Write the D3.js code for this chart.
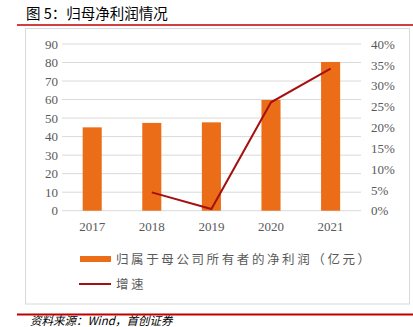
<!DOCTYPE html>
<html><head><meta charset="utf-8">
<script src="https://cdn.jsdelivr.net/npm/d3@7"></script>
<style>body{margin:0;background:#fff;} svg{display:block;}</style>
</head><body>
<script>
const years = ["2017","2018","2019","2020","2021"];
const profit = [45.0, 47.4, 47.7, 59.8, 80.3];
const growth = [null, 0.044, 0.004, 0.260, 0.341];
const leftTicks = [0,10,20,30,40,50,60,70,80,90];
const rightTicks = [0,0.05,0.10,0.15,0.20,0.25,0.30,0.35,0.40];
const title = "图 5：归母净利润情况";
const legendBar = "归属于母公司所有者的净利润（亿元）";
const legendLine = "增速";
const source = "资料来源：Wind，首创证券";

const W = 413, H = 327;
const svg = d3.select("body").append("svg").attr("width", W).attr("height", H);
const serif = "'Liberation Serif','DejaVu Serif',serif";
const cjk = "'Noto Sans CJK SC',sans-serif";

svg.append("text").attr("x", 26).attr("y", 19).attr("font-family", cjk).attr("font-size", 14.5)
  .attr("fill", "#000").text(title);
svg.append("line").attr("x1", 17).attr("x2", 413).attr("y1", 25).attr("y2", 25)
  .attr("stroke", "#c00000").attr("stroke-width", 1.5);
svg.append("rect").attr("x", 25.5).attr("y", 28.5).attr("width", 384).attr("height", 275.5)
  .attr("fill", "#fff").attr("stroke", "#d9d9d9").attr("stroke-width", 1);
svg.append("line").attr("x1", 17).attr("x2", 413).attr("y1", 314.5).attr("y2", 314.5)
  .attr("stroke", "#c00000").attr("stroke-width", 2);
svg.append("text").attr("x", 30).attr("y", 325).attr("font-family", cjk).attr("font-size", 11.5)
  .attr("font-style", "italic").attr("fill", "#000").text(source);

const x = d3.scaleBand().domain(years).range([62.4, 360.4]).paddingInner(0.68).paddingOuter(0.34);
const yL = d3.scaleLinear().domain([0, 90]).range([210.7, 44]);
const yR = d3.scaleLinear().domain([0, 0.40]).range([210.7, 44]);

// gridlines
svg.append("g").selectAll("line").data(leftTicks).join("line")
  .attr("x1", 62).attr("x2", 361).attr("y1", d => yL(d)).attr("y2", d => yL(d))
  .attr("stroke", "#d9d9d9").attr("stroke-width", 1);

const axL = svg.append("g").attr("transform", "translate(58,0)")
  .call(d3.axisLeft(yL).tickValues(leftTicks).tickSize(0).tickPadding(0));
axL.select(".domain").remove();
axL.selectAll("text").attr("font-family", serif).attr("font-size", 13).attr("fill", "#595959");

const axR = svg.append("g").attr("transform", "translate(371,0)")
  .call(d3.axisRight(yR).tickValues(rightTicks).tickSize(0).tickPadding(0).tickFormat(d3.format(".0%")));
axR.select(".domain").remove();
axR.selectAll("text").attr("font-family", serif).attr("font-size", 13).attr("fill", "#595959");

const axB = svg.append("g").attr("transform", "translate(0,218)")
  .call(d3.axisBottom(x).tickSize(0).tickPadding(4));
axB.select(".domain").remove();
axB.selectAll("text").attr("font-family", serif).attr("font-size", 13).attr("fill", "#595959");

svg.append("g").selectAll("rect").data(years).join("rect")
  .attr("x", d => x(d)).attr("width", x.bandwidth())
  .attr("y", (d, i) => yL(profit[i])).attr("height", (d, i) => yL(0) - yL(profit[i]))
  .attr("fill", "#ec6d18");

const pts = years.map((d, i) => [d, growth[i]]).filter(p => p[1] !== null);
svg.append("path").datum(pts)
  .attr("d", d3.line().x(p => x(p[0]) + x.bandwidth() / 2).y(p => yR(p[1])))
  .attr("fill", "none").attr("stroke", "#a50f0f").attr("stroke-width", 2);

// legend
svg.append("rect").attr("x", 80).attr("y", 256).attr("width", 31).attr("height", 6).attr("fill", "#ec6d18");
svg.append("text").attr("x", 116).attr("y", 263.5).attr("font-family", cjk).attr("font-size", 12.5)
  .attr("letter-spacing", 2.6).attr("fill", "#595959").text(legendBar);
svg.append("line").attr("x1", 79).attr("x2", 111).attr("y1", 284).attr("y2", 284)
  .attr("stroke", "#a50f0f").attr("stroke-width", 2);
svg.append("text").attr("x", 116).attr("y", 288.5).attr("font-family", cjk).attr("font-size", 12.5)
  .attr("letter-spacing", 2.6).attr("fill", "#595959").text(legendLine);
</script>
</body></html>
